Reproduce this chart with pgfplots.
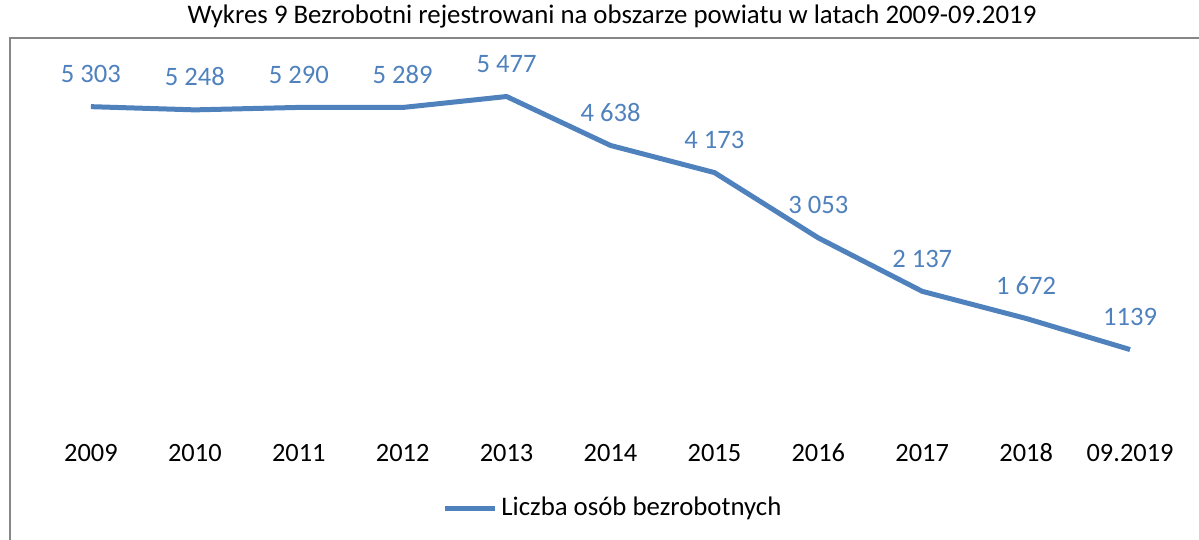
\documentclass[border=0pt]{standalone}
\usepackage{pgfplots}
\pgfplotsset{compat=1.18}
\usepackage{fontspec}
\setmainfont{Carlito}
\definecolor{xlblue}{RGB}{79,129,189}
\definecolor{framegray}{RGB}{134,134,134}
\begin{document}
\begin{tikzpicture}
\useasboundingbox (0,0) rectangle (599.5pt,270pt);
\draw[framegray, line width=1pt] (5pt,-1pt) -- (5pt,251pt) -- (601pt,251pt);
\node[font=\fontsize{13.4pt}{15pt}\selectfont, anchor=base, inner sep=0pt] at (306pt,258pt) {Wykres 9 Bezrobotni rejestrowani na obszarze powiatu w latach 2009-09.2019};
\begin{axis}[
  at={(19.5pt,62pt)}, anchor=south west,
  scale only axis, width=571.5pt, height=175pt,
  xmin=-0.5, xmax=10.5, ymin=0, ymax=6000,
  axis line style={draw=none}, tick style={draw=none},
  ytick=\empty,
  xtick={0,...,10},
  xticklabels={2009,2010,2011,2012,2013,2014,2015,2016,2017,2018,09.2019},
  xticklabel style={anchor=base, inner sep=0pt, yshift=-23pt, font=\fontsize{13.2pt}{15pt}\selectfont},
  clip=false,
  legend style={at={(0.503,-0.263)}, anchor=center, draw=none, fill=none,
    font=\fontsize{13.4pt}{15pt}\selectfont, legend cell align=left},
  legend image code/.code={\draw[line width=2.5pt] (0pt,0pt) -- (25pt,0pt);},
]
\addplot[xlblue, line width=2.5pt, line join=round,
  nodes near coords, point meta=explicit symbolic,
  every node near coord/.append style={anchor=base, inner sep=0pt, yshift=12pt, xlblue, font=\fontsize{13.3pt}{15pt}\selectfont}]
  table[meta=label, col sep=comma] {
x,y,label
0,5303,5 303
1,5248,5 248
2,5290,5 290
3,5289,5 289
4,5477,5 477
5,4638,4 638
6,4173,4 173
7,3053,3 053
8,2137,2 137
9,1672,1 672
10,1139,1139
};
\addlegendentry{Liczba osób bezrobotnych}
\end{axis}
\end{tikzpicture}
\end{document}
